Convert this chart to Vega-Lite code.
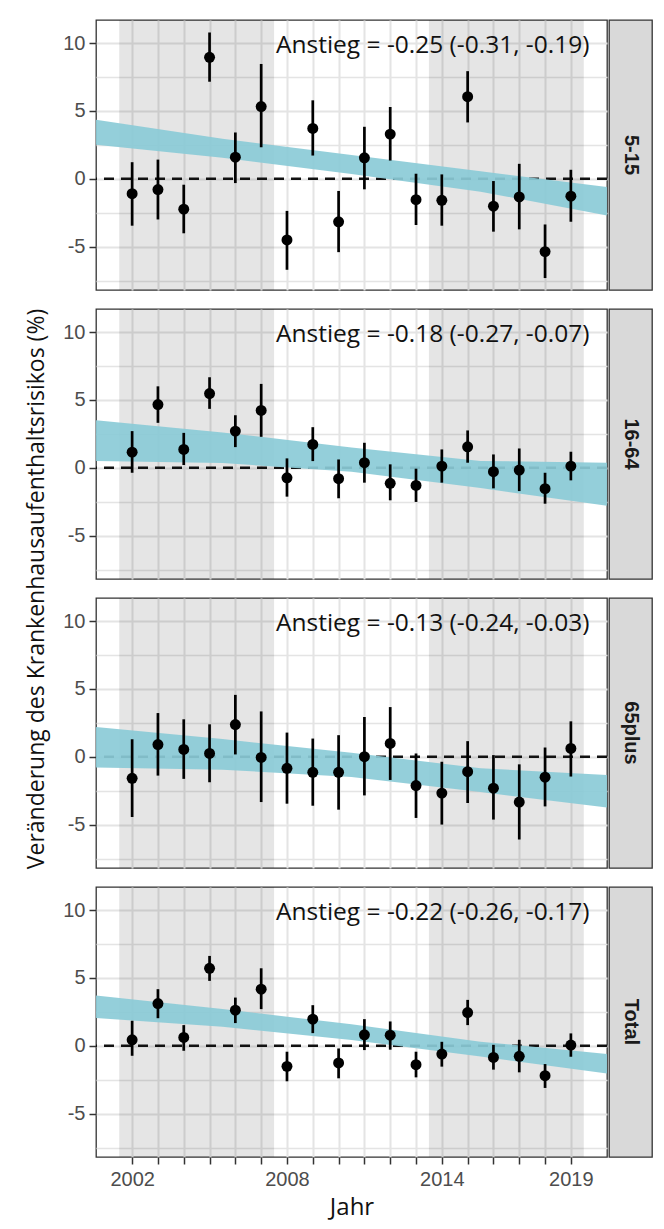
{
  "$schema": "https://vega.github.io/schema/vega-lite/v6.json",
  "padding": {"left": 24, "top": 19, "right": 5, "bottom": 5},
  "background": "white",
  "config": {
    "view": {"stroke": "#333333", "strokeWidth": 1.3},
    "axis": {
      "gridColor": "#e4e4e4",
      "gridWidth": 2,
      "domain": false,
      "tickCount": 100,
      "labelFont": "Liberation Sans",
      "labelFontSize": 20,
      "labelColor": "#4d4d4d",
      "tickColor": "#333333",
      "tickWidth": 1.5,
      "tickSize": 7,
      "labelPadding": 4,
      "titleFont": "Open Sans",
      "titleFontWeight": "normal",
      "titleColor": "#111111"
    }
  },
  "datasets": {
    "periods": [
      {"start": 2001.5, "end": 2007.5},
      {"start": 2013.5, "end": 2019.5}
    ],
    "labels": [
      {"group": "5-15", "label": "Anstieg = -0.25 (-0.31, -0.19)"},
      {"group": "16-64", "label": "Anstieg = -0.18 (-0.27, -0.07)"},
      {"group": "65plus", "label": "Anstieg = -0.13 (-0.24, -0.03)"},
      {"group": "Total", "label": "Anstieg = -0.22 (-0.26, -0.17)"}
    ],
    "ribbon": [
      {"group": "5-15", "year": 2000.6, "lo": 2.5, "hi": 4.35},
      {"group": "5-15", "year": 2005.5, "lo": 1.55, "hi": 2.95},
      {"group": "5-15", "year": 2010.5, "lo": 0.35, "hi": 1.75},
      {"group": "5-15", "year": 2015.5, "lo": -0.95, "hi": 0.55},
      {"group": "5-15", "year": 2020.4, "lo": -2.7, "hi": -0.6},
      {"group": "16-64", "year": 2000.6, "lo": 0.5, "hi": 3.5},
      {"group": "16-64", "year": 2005.5, "lo": 0.35, "hi": 2.6},
      {"group": "16-64", "year": 2010.5, "lo": -0.3, "hi": 1.5},
      {"group": "16-64", "year": 2015.5, "lo": -1.5, "hi": 0.5},
      {"group": "16-64", "year": 2020.4, "lo": -2.8, "hi": 0.37},
      {"group": "65plus", "year": 2000.6, "lo": -0.8, "hi": 2.2},
      {"group": "65plus", "year": 2005.5, "lo": -0.95, "hi": 1.3},
      {"group": "65plus", "year": 2010.5, "lo": -1.5, "hi": 0.3},
      {"group": "65plus", "year": 2015.5, "lo": -2.6, "hi": -0.85},
      {"group": "65plus", "year": 2020.4, "lo": -3.75, "hi": -1.35},
      {"group": "Total", "year": 2000.6, "lo": 2.05, "hi": 3.7},
      {"group": "Total", "year": 2005.5, "lo": 1.4, "hi": 2.7},
      {"group": "Total", "year": 2010.5, "lo": 0.42, "hi": 1.58},
      {"group": "Total", "year": 2015.5, "lo": -0.8, "hi": 0.3},
      {"group": "Total", "year": 2020.4, "lo": -2.05, "hi": -0.6}
    ],
    "points": [
      {"group": "5-15", "year": 2002, "est": -1.10, "lo": -3.46, "hi": 1.22},
      {"group": "5-15", "year": 2003, "est": -0.80, "lo": -3.00, "hi": 1.41},
      {"group": "5-15", "year": 2004, "est": -2.24, "lo": -4.02, "hi": -0.44},
      {"group": "5-15", "year": 2005, "est": 8.95, "lo": 7.15, "hi": 10.78},
      {"group": "5-15", "year": 2006, "est": 1.59, "lo": -0.32, "hi": 3.41},
      {"group": "5-15", "year": 2007, "est": 5.32, "lo": 2.32, "hi": 8.46},
      {"group": "5-15", "year": 2008, "est": -4.51, "lo": -6.71, "hi": -2.37},
      {"group": "5-15", "year": 2009, "est": 3.71, "lo": 1.71, "hi": 5.78},
      {"group": "5-15", "year": 2010, "est": -3.17, "lo": -5.41, "hi": -0.90},
      {"group": "5-15", "year": 2011, "est": 1.54, "lo": -0.78, "hi": 3.83},
      {"group": "5-15", "year": 2012, "est": 3.29, "lo": 1.34, "hi": 5.29},
      {"group": "5-15", "year": 2013, "est": -1.54, "lo": -3.41, "hi": 0.37},
      {"group": "5-15", "year": 2014, "est": -1.59, "lo": -3.46, "hi": 0.32},
      {"group": "5-15", "year": 2015, "est": 6.05, "lo": 4.15, "hi": 7.93},
      {"group": "5-15", "year": 2016, "est": -2.02, "lo": -3.90, "hi": -0.17},
      {"group": "5-15", "year": 2017, "est": -1.34, "lo": -3.73, "hi": 1.10},
      {"group": "5-15", "year": 2018, "est": -5.37, "lo": -7.32, "hi": -3.37},
      {"group": "5-15", "year": 2019, "est": -1.29, "lo": -3.17, "hi": 0.66},
      {"group": "16-64", "year": 2002, "est": 1.15, "lo": -0.37, "hi": 2.70},
      {"group": "16-64", "year": 2003, "est": 4.66, "lo": 3.31, "hi": 6.00},
      {"group": "16-64", "year": 2004, "est": 1.35, "lo": 0.20, "hi": 2.57},
      {"group": "16-64", "year": 2005, "est": 5.47, "lo": 4.34, "hi": 6.67},
      {"group": "16-64", "year": 2006, "est": 2.70, "lo": 1.52, "hi": 3.87},
      {"group": "16-64", "year": 2007, "est": 4.22, "lo": 2.28, "hi": 6.18},
      {"group": "16-64", "year": 2008, "est": -0.74, "lo": -2.13, "hi": 0.69},
      {"group": "16-64", "year": 2009, "est": 1.72, "lo": 0.49, "hi": 2.99},
      {"group": "16-64", "year": 2010, "est": -0.81, "lo": -2.25, "hi": 0.61},
      {"group": "16-64", "year": 2011, "est": 0.37, "lo": -1.10, "hi": 1.84},
      {"group": "16-64", "year": 2012, "est": -1.15, "lo": -2.40, "hi": 0.25},
      {"group": "16-64", "year": 2013, "est": -1.30, "lo": -2.52, "hi": -0.07},
      {"group": "16-64", "year": 2014, "est": 0.12, "lo": -1.10, "hi": 1.35},
      {"group": "16-64", "year": 2015, "est": 1.54, "lo": 0.37, "hi": 2.75},
      {"group": "16-64", "year": 2016, "est": -0.29, "lo": -1.52, "hi": 0.98},
      {"group": "16-64", "year": 2017, "est": -0.17, "lo": -1.72, "hi": 1.42},
      {"group": "16-64", "year": 2018, "est": -1.54, "lo": -2.65, "hi": -0.37},
      {"group": "16-64", "year": 2019, "est": 0.12, "lo": -0.93, "hi": 1.18},
      {"group": "65plus", "year": 2002, "est": -1.59, "lo": -4.44, "hi": 1.29},
      {"group": "65plus", "year": 2003, "est": 0.90, "lo": -1.39, "hi": 3.22},
      {"group": "65plus", "year": 2004, "est": 0.54, "lo": -1.63, "hi": 2.76},
      {"group": "65plus", "year": 2005, "est": 0.24, "lo": -1.88, "hi": 2.39},
      {"group": "65plus", "year": 2006, "est": 2.37, "lo": 0.17, "hi": 4.56},
      {"group": "65plus", "year": 2007, "est": -0.05, "lo": -3.34, "hi": 3.34},
      {"group": "65plus", "year": 2008, "est": -0.85, "lo": -3.46, "hi": 1.78},
      {"group": "65plus", "year": 2009, "est": -1.15, "lo": -3.61, "hi": 1.34},
      {"group": "65plus", "year": 2010, "est": -1.15, "lo": -3.90, "hi": 1.59},
      {"group": "65plus", "year": 2011, "est": 0.00, "lo": -2.85, "hi": 2.93},
      {"group": "65plus", "year": 2012, "est": 0.98, "lo": -1.71, "hi": 3.66},
      {"group": "65plus", "year": 2013, "est": -2.12, "lo": -4.51, "hi": 0.24},
      {"group": "65plus", "year": 2014, "est": -2.68, "lo": -5.00, "hi": -0.37},
      {"group": "65plus", "year": 2015, "est": -1.10, "lo": -3.41, "hi": 1.15},
      {"group": "65plus", "year": 2016, "est": -2.32, "lo": -4.63, "hi": 0.12},
      {"group": "65plus", "year": 2017, "est": -3.34, "lo": -6.10, "hi": -0.56},
      {"group": "65plus", "year": 2018, "est": -1.51, "lo": -3.66, "hi": 0.68},
      {"group": "65plus", "year": 2019, "est": 0.61, "lo": -1.46, "hi": 2.61},
      {"group": "Total", "year": 2002, "est": 0.44, "lo": -0.74, "hi": 1.84},
      {"group": "Total", "year": 2003, "est": 3.11, "lo": 2.03, "hi": 4.17},
      {"group": "Total", "year": 2004, "est": 0.61, "lo": -0.37, "hi": 1.52},
      {"group": "Total", "year": 2005, "est": 5.71, "lo": 4.78, "hi": 6.62},
      {"group": "Total", "year": 2006, "est": 2.62, "lo": 1.67, "hi": 3.55},
      {"group": "Total", "year": 2007, "est": 4.17, "lo": 2.70, "hi": 5.71},
      {"group": "Total", "year": 2008, "est": -1.52, "lo": -2.62, "hi": -0.44},
      {"group": "Total", "year": 2009, "est": 1.96, "lo": 0.93, "hi": 2.99},
      {"group": "Total", "year": 2010, "est": -1.27, "lo": -2.40, "hi": -0.20},
      {"group": "Total", "year": 2011, "est": 0.81, "lo": -0.32, "hi": 1.96},
      {"group": "Total", "year": 2012, "est": 0.78, "lo": -0.29, "hi": 1.79},
      {"group": "Total", "year": 2013, "est": -1.40, "lo": -2.33, "hi": -0.44},
      {"group": "Total", "year": 2014, "est": -0.61, "lo": -1.54, "hi": 0.29},
      {"group": "Total", "year": 2015, "est": 2.45, "lo": 1.52, "hi": 3.38},
      {"group": "Total", "year": 2016, "est": -0.86, "lo": -1.76, "hi": 0.07},
      {"group": "Total", "year": 2017, "est": -0.78, "lo": -1.96, "hi": 0.44},
      {"group": "Total", "year": 2018, "est": -2.21, "lo": -3.11, "hi": -1.35},
      {"group": "Total", "year": 2019, "est": 0.05, "lo": -0.81, "hi": 0.91}
    ]
  },
  "concat": [
    {
      "width": 511, "height": 270,
      "layer": [
        {"data": {"name": "periods"}, "mark": {"type": "rect", "color": "#000000", "opacity": 0.1},
         "encoding": {"x": {"field": "start", "type": "quantitative", "title": null, "scale": {"domain": [2000.6, 2020.4], "nice": false, "zero": false},
           "axis": {"values": [2002,2003,2004,2005,2006,2007,2008,2009,2010,2011,2012,2013,2014,2015,2016,2017,2018,2019], "labels": false, "ticks": false, "title": null, "grid": true}},
           "x2": {"field": "end"}}},
        {"data": {"name": "labels"}, "transform": [{"filter": "datum.group == '5-15'"}],
         "mark": {"type": "rule", "strokeDash": [10, 7], "strokeWidth": 2.5, "color": "#111111"},
         "encoding": {"y": {"datum": 0, "type": "quantitative", "title": null, "scale": {"domain": [-8.2, 11.7], "nice": false, "zero": false},
           "axis": {"values": [-7.5,-5,-2.5,0,2.5,5,7.5,10], "title": null, "grid": true, "labelExpr": "datum.value % 5 == 0 ? '' + datum.value : ''",
             "tickColor": {"condition": {"test": "datum.value % 5 != 0", "value": "transparent"}, "value": "#333333"},
             "gridWidth": {"condition": {"test": "datum.value % 5 != 0", "value": 1.5}, "value": 2}}}}},
        {"data": {"name": "ribbon"}, "transform": [{"filter": "datum.group == '5-15'"}],
         "mark": {"type": "area", "color": "#8bcbd7", "opacity": 0.92},
         "encoding": {"x": {"field": "year", "type": "quantitative", "title": null}, "y": {"field": "lo", "type": "quantitative", "title": null}, "y2": {"field": "hi"}}},
        {"data": {"name": "points"}, "transform": [{"filter": "datum.group == '5-15'"}],
         "mark": {"type": "rule", "strokeWidth": 2.7, "color": "#000000"},
         "encoding": {"x": {"field": "year", "type": "quantitative", "title": null}, "y": {"field": "lo", "type": "quantitative", "title": null}, "y2": {"field": "hi"}}},
        {"data": {"name": "points"}, "transform": [{"filter": "datum.group == '5-15'"}],
         "mark": {"type": "point", "filled": true, "size": 120, "opacity": 1, "color": "#000000"},
         "encoding": {"x": {"field": "year", "type": "quantitative", "title": null}, "y": {"field": "est", "type": "quantitative", "title": null}}},
        {"data": {"name": "labels"}, "transform": [{"filter": "datum.group == '5-15'"}],
         "mark": {"type": "text", "align": "right", "baseline": "alphabetic", "font": "Open Sans", "fontSize": 24.5, "color": "#111111"},
         "encoding": {"x": {"datum": 2019.72, "type": "quantitative"}, "y": {"datum": 9.3, "type": "quantitative"}, "text": {"field": "label"}}}
      ]
    },
    {
      "width": 43, "height": 270,
      "view": {"fill": "#d9d9d9", "stroke": "#333333", "strokeWidth": 1.3},
      "data": {"name": "labels"}, "transform": [{"filter": "datum.group == '5-15'"}],
      "mark": {"type": "text", "angle": 90, "font": "Liberation Sans", "fontSize": 20, "fontWeight": "bold", "color": "#1a1a1a"},
      "encoding": {"text": {"field": "group"}}
    },
    {
      "width": 511, "height": 270,
      "layer": [
        {"data": {"name": "periods"}, "mark": {"type": "rect", "color": "#000000", "opacity": 0.1},
         "encoding": {"x": {"field": "start", "type": "quantitative", "title": null, "scale": {"domain": [2000.6, 2020.4], "nice": false, "zero": false},
           "axis": {"values": [2002,2003,2004,2005,2006,2007,2008,2009,2010,2011,2012,2013,2014,2015,2016,2017,2018,2019], "labels": false, "ticks": false, "title": null, "grid": true}},
           "x2": {"field": "end"}}},
        {"data": {"name": "labels"}, "transform": [{"filter": "datum.group == '16-64'"}],
         "mark": {"type": "rule", "strokeDash": [10, 7], "strokeWidth": 2.5, "color": "#111111"},
         "encoding": {"y": {"datum": 0, "type": "quantitative", "title": "Veränderung des Krankenhausaufenthaltsrisikos (%)", "scale": {"domain": [-8.2, 11.7], "nice": false, "zero": false},
           "axis": {"values": [-7.5,-5,-2.5,0,2.5,5,7.5,10], "title": "Veränderung des Krankenhausaufenthaltsrisikos (%)", "grid": true,
             "titleFontSize": 23, "titleX": -60, "titleY": 279.5, "titleBaseline": "middle", "titleAngle": 270, "titleAlign": "center",
             "labelExpr": "datum.value % 5 == 0 ? '' + datum.value : ''",
             "tickColor": {"condition": {"test": "datum.value % 5 != 0", "value": "transparent"}, "value": "#333333"},
             "gridWidth": {"condition": {"test": "datum.value % 5 != 0", "value": 1.5}, "value": 2}}}}},
        {"data": {"name": "ribbon"}, "transform": [{"filter": "datum.group == '16-64'"}],
         "mark": {"type": "area", "color": "#8bcbd7", "opacity": 0.92},
         "encoding": {"x": {"field": "year", "type": "quantitative", "title": null}, "y": {"field": "lo", "type": "quantitative", "title": "Veränderung des Krankenhausaufenthaltsrisikos (%)"}, "y2": {"field": "hi"}}},
        {"data": {"name": "points"}, "transform": [{"filter": "datum.group == '16-64'"}],
         "mark": {"type": "rule", "strokeWidth": 2.7, "color": "#000000"},
         "encoding": {"x": {"field": "year", "type": "quantitative", "title": null}, "y": {"field": "lo", "type": "quantitative", "title": "Veränderung des Krankenhausaufenthaltsrisikos (%)"}, "y2": {"field": "hi"}}},
        {"data": {"name": "points"}, "transform": [{"filter": "datum.group == '16-64'"}],
         "mark": {"type": "point", "filled": true, "size": 120, "opacity": 1, "color": "#000000"},
         "encoding": {"x": {"field": "year", "type": "quantitative", "title": null}, "y": {"field": "est", "type": "quantitative", "title": "Veränderung des Krankenhausaufenthaltsrisikos (%)"}}},
        {"data": {"name": "labels"}, "transform": [{"filter": "datum.group == '16-64'"}],
         "mark": {"type": "text", "align": "right", "baseline": "alphabetic", "font": "Open Sans", "fontSize": 24.5, "color": "#111111"},
         "encoding": {"x": {"datum": 2019.72, "type": "quantitative"}, "y": {"datum": 9.3, "type": "quantitative", "title": "Veränderung des Krankenhausaufenthaltsrisikos (%)"}, "text": {"field": "label"}}}
      ]
    },
    {
      "width": 43, "height": 270,
      "view": {"fill": "#d9d9d9", "stroke": "#333333", "strokeWidth": 1.3},
      "data": {"name": "labels"}, "transform": [{"filter": "datum.group == '16-64'"}],
      "mark": {"type": "text", "angle": 90, "font": "Liberation Sans", "fontSize": 20, "fontWeight": "bold", "color": "#1a1a1a"},
      "encoding": {"text": {"field": "group"}}
    },
    {
      "width": 511, "height": 270,
      "layer": [
        {"data": {"name": "periods"}, "mark": {"type": "rect", "color": "#000000", "opacity": 0.1},
         "encoding": {"x": {"field": "start", "type": "quantitative", "title": null, "scale": {"domain": [2000.6, 2020.4], "nice": false, "zero": false},
           "axis": {"values": [2002,2003,2004,2005,2006,2007,2008,2009,2010,2011,2012,2013,2014,2015,2016,2017,2018,2019], "labels": false, "ticks": false, "title": null, "grid": true}},
           "x2": {"field": "end"}}},
        {"data": {"name": "labels"}, "transform": [{"filter": "datum.group == '65plus'"}],
         "mark": {"type": "rule", "strokeDash": [10, 7], "strokeWidth": 2.5, "color": "#111111"},
         "encoding": {"y": {"datum": 0, "type": "quantitative", "title": null, "scale": {"domain": [-8.2, 11.7], "nice": false, "zero": false},
           "axis": {"values": [-7.5,-5,-2.5,0,2.5,5,7.5,10], "title": null, "grid": true, "labelExpr": "datum.value % 5 == 0 ? '' + datum.value : ''",
             "tickColor": {"condition": {"test": "datum.value % 5 != 0", "value": "transparent"}, "value": "#333333"},
             "gridWidth": {"condition": {"test": "datum.value % 5 != 0", "value": 1.5}, "value": 2}}}}},
        {"data": {"name": "ribbon"}, "transform": [{"filter": "datum.group == '65plus'"}],
         "mark": {"type": "area", "color": "#8bcbd7", "opacity": 0.92},
         "encoding": {"x": {"field": "year", "type": "quantitative", "title": null}, "y": {"field": "lo", "type": "quantitative", "title": null}, "y2": {"field": "hi"}}},
        {"data": {"name": "points"}, "transform": [{"filter": "datum.group == '65plus'"}],
         "mark": {"type": "rule", "strokeWidth": 2.7, "color": "#000000"},
         "encoding": {"x": {"field": "year", "type": "quantitative", "title": null}, "y": {"field": "lo", "type": "quantitative", "title": null}, "y2": {"field": "hi"}}},
        {"data": {"name": "points"}, "transform": [{"filter": "datum.group == '65plus'"}],
         "mark": {"type": "point", "filled": true, "size": 120, "opacity": 1, "color": "#000000"},
         "encoding": {"x": {"field": "year", "type": "quantitative", "title": null}, "y": {"field": "est", "type": "quantitative", "title": null}}},
        {"data": {"name": "labels"}, "transform": [{"filter": "datum.group == '65plus'"}],
         "mark": {"type": "text", "align": "right", "baseline": "alphabetic", "font": "Open Sans", "fontSize": 24.5, "color": "#111111"},
         "encoding": {"x": {"datum": 2019.72, "type": "quantitative"}, "y": {"datum": 9.3, "type": "quantitative"}, "text": {"field": "label"}}}
      ]
    },
    {
      "width": 43, "height": 270,
      "view": {"fill": "#d9d9d9", "stroke": "#333333", "strokeWidth": 1.3},
      "data": {"name": "labels"}, "transform": [{"filter": "datum.group == '65plus'"}],
      "mark": {"type": "text", "angle": 90, "font": "Liberation Sans", "fontSize": 20, "fontWeight": "bold", "color": "#1a1a1a"},
      "encoding": {"text": {"field": "group"}}
    },
    {
      "width": 511, "height": 270,
      "layer": [
        {"data": {"name": "periods"}, "mark": {"type": "rect", "color": "#000000", "opacity": 0.1},
         "encoding": {"x": {"field": "start", "type": "quantitative", "scale": {"domain": [2000.6, 2020.4], "nice": false, "zero": false},
           "axis": {"values": [2002,2003,2004,2005,2006,2007,2008,2009,2010,2011,2012,2013,2014,2015,2016,2017,2018,2019],
             "labelExpr": "indexof([2002, 2008, 2014, 2019], datum.value) >= 0 ? '' + datum.value : ''",
             "labelPadding": 5, "title": "Jahr", "titleFontSize": 24, "titlePadding": 6, "grid": true}},
           "x2": {"field": "end"}}},
        {"data": {"name": "labels"}, "transform": [{"filter": "datum.group == 'Total'"}],
         "mark": {"type": "rule", "strokeDash": [10, 7], "strokeWidth": 2.5, "color": "#111111"},
         "encoding": {"y": {"datum": 0, "type": "quantitative", "title": null, "scale": {"domain": [-8.2, 11.7], "nice": false, "zero": false},
           "axis": {"values": [-7.5,-5,-2.5,0,2.5,5,7.5,10], "title": null, "grid": true, "labelExpr": "datum.value % 5 == 0 ? '' + datum.value : ''",
             "tickColor": {"condition": {"test": "datum.value % 5 != 0", "value": "transparent"}, "value": "#333333"},
             "gridWidth": {"condition": {"test": "datum.value % 5 != 0", "value": 1.5}, "value": 2}}}}},
        {"data": {"name": "ribbon"}, "transform": [{"filter": "datum.group == 'Total'"}],
         "mark": {"type": "area", "color": "#8bcbd7", "opacity": 0.92},
         "encoding": {"x": {"field": "year", "type": "quantitative", "title": "Jahr"}, "y": {"field": "lo", "type": "quantitative", "title": null}, "y2": {"field": "hi"}}},
        {"data": {"name": "points"}, "transform": [{"filter": "datum.group == 'Total'"}],
         "mark": {"type": "rule", "strokeWidth": 2.7, "color": "#000000"},
         "encoding": {"x": {"field": "year", "type": "quantitative", "title": "Jahr"}, "y": {"field": "lo", "type": "quantitative", "title": null}, "y2": {"field": "hi"}}},
        {"data": {"name": "points"}, "transform": [{"filter": "datum.group == 'Total'"}],
         "mark": {"type": "point", "filled": true, "size": 120, "opacity": 1, "color": "#000000"},
         "encoding": {"x": {"field": "year", "type": "quantitative", "title": "Jahr"}, "y": {"field": "est", "type": "quantitative", "title": null}}},
        {"data": {"name": "labels"}, "transform": [{"filter": "datum.group == 'Total'"}],
         "mark": {"type": "text", "align": "right", "baseline": "alphabetic", "font": "Open Sans", "fontSize": 24.5, "color": "#111111"},
         "encoding": {"x": {"datum": 2019.72, "type": "quantitative"}, "y": {"datum": 9.3, "type": "quantitative"}, "text": {"field": "label"}}}
      ]
    },
    {
      "width": 43, "height": 270,
      "view": {"fill": "#d9d9d9", "stroke": "#333333", "strokeWidth": 1.3},
      "data": {"name": "labels"}, "transform": [{"filter": "datum.group == 'Total'"}],
      "mark": {"type": "text", "angle": 90, "font": "Liberation Sans", "fontSize": 20, "fontWeight": "bold", "color": "#1a1a1a"},
      "encoding": {"text": {"field": "group"}}
    }
  ],
  "columns": 2,
  "spacing": {"row": 19, "column": 2},
  "bounds": "flush"
}
